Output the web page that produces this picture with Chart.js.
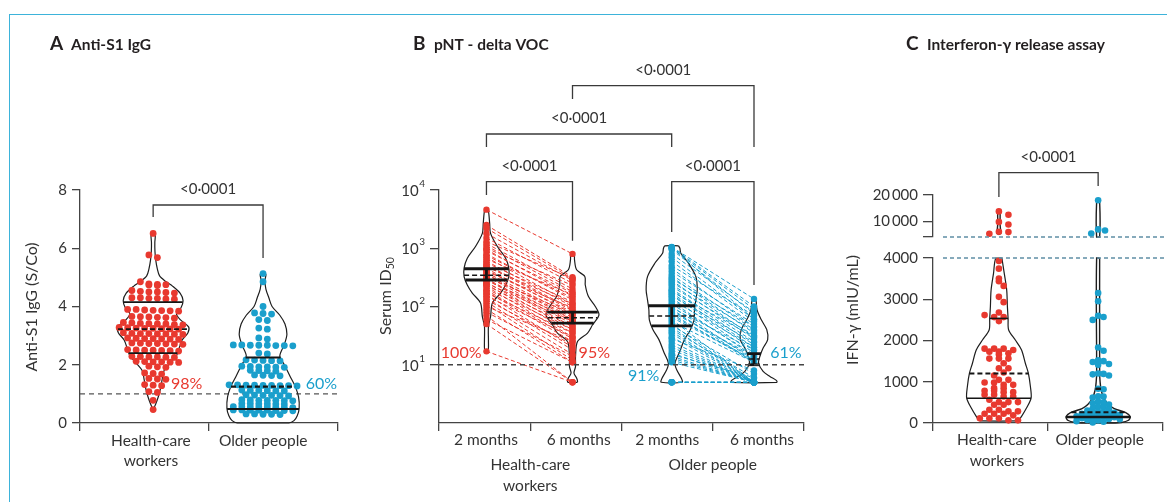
<!DOCTYPE html>
<html>
<head>
<meta charset="utf-8">
<script src="https://cdn.jsdelivr.net/npm/chart.js@4.4.1/dist/chart.umd.min.js"></script>
<style>
  html, body { margin: 0; padding: 0; background: #fff; }
  #fig { position: relative; width: 1167px; height: 502px; overflow: hidden; }
  #frame { position: absolute; left: 9px; top: 14px; width: 1200px; height: 520px;
           border-left: 1.5px solid #3db3da; border-top: 1.5px solid #3db3da; }
  canvas { position: absolute; }
</style>
</head>
<body>
<div id="fig">
  <div id="frame"></div>
  <canvas id="chartA" width="380" height="502" style="left:0;top:0"></canvas>
  <canvas id="chartB" width="450" height="502" style="left:370px;top:0"></canvas>
  <canvas id="chartCTop" width="347" height="251" style="left:820px;top:0"></canvas>
  <canvas id="chartCLow" width="347" height="262" style="left:820px;top:240px"></canvas>
</div>
<script>
const RED = '#e8392f';
const BLUE = '#1a9fcc';
const INK = '#333333';
const AXIS = '#444444';
const FONT = 'Lato, "Open Sans", sans-serif';

// ---------- data ----------
const groupLabels = [['Health-care', 'workers'], ['Older people']];
const timeLabels = ['2 months', '6 months', '2 months', '6 months'];
const pValue = '<0·0001';

// A: anti-S1 IgG (S/Co)
const aTicks = [0, 2, 4, 6, 8];
const aCutoff = 1;
const aPositive = ['98%', '60%'];
const aHcw = [
  6.51, 5.77, 5.68,
  4.85, 4.78, 4.76, 4.75, 4.74, 4.72,
  4.55, 4.52, 4.5, 4.5, 4.48, 4.46,
  4.3, 4.28, 4.28, 4.26, 4.25, 4.3,
  3.9, 3.88, 3.87, 3.86, 3.85, 3.84, 3.9,
  3.65, 3.64, 3.63, 3.62, 3.66, 3.6,
  3.45, 3.42, 3.41, 3.4, 3.38, 3.37, 3.44, 3.4,
  3.27, 3.26, 3.25, 3.24, 3.23, 3.22, 3.25, 3.28,
  3.08, 3.07, 3.06, 3.05, 3.04, 3.1, 3.07, 3.06,
  2.92, 2.9, 2.89, 2.88, 2.91, 2.9, 2.87,
  2.74, 2.73, 2.72, 2.7, 2.75, 2.71, 2.73,
  2.52, 2.5, 2.49, 2.48, 2.51, 2.5, 2.47,
  2.28, 2.27, 2.26, 2.25, 2.29, 2.27,
  2.12, 2.1, 2.09, 2.08, 2.11, 2.1,
  1.95, 1.93, 1.91, 1.72, 1.7, 1.68, 1.53, 1.51, 1.5,
  1.32, 1.3, 1.28, 1.08, 1.05, 0.78, 0.46,
];
const aOlder = [
  5.13, 4.85, 4.0, 3.78, 3.76, 3.74, 3.55, 3.52, 3.26, 3.22, 2.92, 2.88,
  2.68, 2.67, 2.67, 2.66, 2.68, 2.65, 2.67, 2.66,
  2.4, 2.37, 2.17, 2.15, 2.14, 2.16, 2.13,
  1.95, 1.93, 1.92, 1.94, 1.91, 1.93,
  1.8, 1.79, 1.81, 1.78,
  1.65, 1.64, 1.63, 1.62,
  1.31, 1.3, 1.29, 1.28, 1.3, 1.31, 1.27, 1.29, 1.28,
  1.12, 1.11, 1.1, 1.13, 1.12, 1.1,
  0.96, 0.95, 0.94, 0.95, 0.97, 0.93,
  0.79, 0.78, 0.77, 0.78, 0.8, 0.76, 0.78,
  0.67, 0.66, 0.65, 0.66, 0.67, 0.65,
  0.56, 0.55, 0.54, 0.55, 0.56, 0.54, 0.55, 0.53,
  0.45, 0.44, 0.43, 0.44, 0.45, 0.43, 0.44, 0.42,
  0.31, 0.3, 0.29, 0.3, 0.31,
];
const aHcwQuartiles = [2.4, 3.22, 4.15];
const aOlderQuartiles = [0.48, 1.25, 2.25];
// violin outlines: [value, half width in category units]
const aHcwViolin = [[6.55, 0], [6.45, 0.016], [6.2, 0.013], [5.9, 0.014], [5.6, 0.02], [5.3, 0.032],
  [5.05, 0.05], [4.85, 0.1], [4.7, 0.15], [4.45, 0.21], [4.2, 0.232], [3.95, 0.215], [3.75, 0.18],
  [3.55, 0.21], [3.3, 0.275], [3.1, 0.27], [2.85, 0.225], [2.55, 0.2], [2.3, 0.18], [2.05, 0.13],
  [1.8, 0.085], [1.5, 0.07], [1.2, 0.058], [0.9, 0.04], [0.65, 0.02], [0.45, 0]];
const aOlderViolin = [[5.2, 0], [5.1, 0.022], [4.9, 0.015], [4.6, 0.022], [4.3, 0.045], [4.0, 0.07],
  [3.7, 0.13], [3.4, 0.17], [3.05, 0.185], [2.7, 0.165], [2.3, 0.13], [2.0, 0.165], [1.6, 0.21],
  [1.3, 0.245], [0.9, 0.275], [0.5, 0.28], [0.25, 0.265], [0.08, 0.24], [0, 0.2]];

// B: pseudovirus neutralisation, delta VOC (serum ID50), paired samples
const bTicks = [10, 100, 1000, 10000];
const bCutoff = 10;
const bPositive = ['100%', '95%', '91%', '61%'];
const bHcw2m = [4600, 2500, 2200, 1800, 1500, 1300, 1200, 1100, 1000, 950, 900, 800, 750, 700, 650,
  600, 560, 520, 500, 480, 450, 420, 400, 380, 360, 350, 330, 320, 300, 290, 280, 260, 250, 240, 230,
  220, 200, 190, 180, 170, 160, 150, 140, 130, 120, 110, 100, 90, 80, 70, 60, 50, 17];
const bHcw6m = [800, 320, 300, 280, 250, 300, 200, 180, 230, 150, 170, 130, 140, 110, 160,
  100, 120, 90, 85, 110, 75, 80, 95, 70, 60, 65, 55, 75, 50, 45, 60, 40, 55, 35, 45,
  30, 40, 28, 25, 35, 20, 30, 18, 22, 15, 12, 25, 11, 14, 5, 11, 5, 5];
const bOlder2m = [1050, 1040, 1030, 1000, 950, 800, 700, 600, 500, 450, 400, 350, 320, 300, 280,
  260, 240, 220, 200, 190, 180, 170, 160, 150, 140, 130, 120, 110, 100, 95, 90, 85, 80, 75, 70,
  65, 60, 55, 50, 47, 44, 40, 37, 34, 30, 28, 25, 22, 20, 18, 16, 15, 14, 13, 12, 11, 5, 5, 5, 5, 5];
const bOlder6m = [135, 100, 60, 90, 75, 80, 60, 55, 70, 45, 50, 40, 35, 45, 30,
  38, 28, 32, 25, 22, 30, 20, 18, 24, 16, 20, 14, 15, 12, 18, 11, 13, 14, 11, 12,
  12, 5, 11, 5, 7, 5, 6, 5, 5, 5, 8, 5, 5, 5, 5, 5, 6, 5, 5, 5, 5, 5, 5, 5, 5, 5];
// geometric mean with 95% CI: [lower, GM, upper]
const bGeoMeans = [[285, 345, 445], [52, 64, 80], [46.6, 69, 103], [10, 12.5, 15.5]];
const bViolins = [
  [[4800, 0], [4500, 0.02], [2700, 0.035], [1800, 0.045], [1070, 0.12], [675, 0.21], [455, 0.245],
    [327, 0.245], [234, 0.21], [170, 0.155], [115, 0.065], [67, 0.045], [46, 0.022], [25, 0.022],
    [18, 0.02], [16.5, 0]],
  [[860, 0], [800, 0.02], [630, 0.022], [427, 0.045], [327, 0.135], [234, 0.14], [148, 0.175],
    [100, 0.25], [72, 0.29], [48.5, 0.22], [35, 0.165], [25, 0.055], [13.9, 0.033], [9.3, 0.033],
    [7.2, 0.016], [5.9, 0.045], [5.2, 0.055], [5, 0.05]],
  [[1100, 0.075], [1000, 0.09], [822, 0.1], [552, 0.185], [326, 0.265], [194, 0.28], [130, 0.265],
    [88, 0.25], [59, 0.245], [40, 0.205], [27, 0.14], [15.9, 0.082], [10.7, 0.036], [8.2, 0.055],
    [5.9, 0.105], [5, 0.115]],
  [[140, 0], [135, 0.02], [88, 0.033], [59, 0.08], [40, 0.14], [27, 0.15], [19.3, 0.1], [14, 0.065],
    [10.7, 0.05], [7.7, 0.1], [6.3, 0.175], [5.4, 0.245], [5, 0.25]],
];

// C: interferon-gamma release assay (mIU/mL), broken axis at 4000
const cBreak = 4000;
const cTicksLow = [0, 1000, 2000, 3000, 4000];
const cTicksHigh = [4000, 10000, 20000];
const cHcw = [13750, 12500, 9750, 8750, 6000, 5875, 5250,
  3927, 3742, 3501, 3437, 3324, 3058, 2930, 2680, 2616, 2567, 2567, 2470,
  1803, 1803, 1803, 1771, 1730, 1730, 1690, 1658, 1561, 1561, 1561, 1449, 1328, 1328, 1223, 1151,
  1046, 1046, 982, 982, 925, 925, 845, 845, 781, 781, 748, 748, 684, 684, 644, 644,
  563, 507, 507, 507, 443, 443, 322, 322, 282, 282, 225, 225, 225, 185, 113, 113, 113, 64, 64];
const cOlder = [18000, 6900, 6500, 5300,
  3150, 2950, 2600, 2570, 2500, 1830, 1750, 1520, 1500, 1480, 1430, 1410, 1200, 1190, 1180, 1150,
  830, 820, 650, 640, 620, 520, 500, 480, 450, 400, 380, 350, 330, 300, 280, 260, 250, 240, 225,
  210, 200, 185, 170, 160, 150, 140, 130, 115, 100, 90, 75, 60, 45, 30, 15];
const cHcwQuartiles = [600, 1200, 2535];
const cOlderQuartiles = [145, 258, 830];
const cHcwViolinLow = [[4000, 0.026], [3622, 0.047], [3219, 0.068], [2817, 0.074], [2535, 0.08],
  [2253, 0.085], [2012, 0.143], [1770, 0.197], [1449, 0.23], [1207, 0.256], [885, 0.274],
  [604, 0.28], [362, 0.24], [161, 0.197], [64, 0.17], [50, 0.16]];
const cHcwViolinHigh = [[13750, 0], [13200, 0.01], [9000, 0.01], [6500, 0.015], [5500, 0.018], [5000, 0]];
const cOlderViolinLow = [[4000, 0.013], [1200, 0.013], [1000, 0.017], [800, 0.026], [600, 0.05],
  [450, 0.09], [350, 0.14], [250, 0.24], [150, 0.28], [60, 0.26], [10, 0.2], [0, 0.15]];
const cOlderViolinHigh = [[18000, 0], [17500, 0.013], [4000, 0.013]];

// ---------- layout ----------
const aCenters = [0.567, 1.419];
const bCenters = [0.52, 1.463, 2.55, 3.452];
const cCenters = [0.573, 1.436];

// ---------- helpers ----------
Chart.defaults.font.family = FONT;

function swarm(values, center, pxPerX, toPx, step, gap) {
  const placed = [];
  return [...values].sort((a, b) => b - a).map((v) => {
    const py = toPx(v);
    for (let k = 0; k < 60; k += 1) {
      const off = (k % 2 ? 1 : -1) * Math.ceil(k / 2) * step;
      if (placed.every((p) => Math.hypot(p.px - off, p.py - py) >= gap)) {
        placed.push({ px: off, py });
        return { x: center + off / pxPerX, y: v };
      }
    }
    return { x: center, y: v };
  });
}

// rows of near-equal values, centred; a row is nudged half a step if it clashes with the one above
function rowSwarm(values, center, pxPerX, toPx, step, gap, tol) {
  const groups = [];
  [...values].sort((a, b) => b - a).forEach((v) => {
    const g = groups[groups.length - 1];
    if (g && toPx(g[0]) - toPx(v) < tol) g.push(v);
    else groups.push([v]);
  });
  const placed = [];
  const out = [];
  groups.forEach((g) => {
    const base = g.map((v, i) => ({ v, px: (i - (g.length - 1) / 2) * step, py: toPx(v) }));
    const shift = [0, step / 2, -step / 2].find((s) => base.every((b) =>
      placed.every((p) => Math.hypot(p.px - b.px - s, p.py - b.py) >= gap))) || 0;
    base.forEach((b) => {
      placed.push({ px: b.px + shift, py: b.py });
      out.push({ x: center + (b.px + shift) / pxPerX, y: b.v });
    });
  });
  return out;
}

function dots(points, color, radius) {
  return {
    data: points, backgroundColor: color, borderWidth: 0,
    pointRadius: radius, order: 2, clip: false,
  };
}

function violin(center, profile, width = 1.2) {
  const right = profile.map(([v, w]) => ({ x: center + w, y: v }));
  const left = profile.map(([v, w]) => ({ x: center - w, y: v })).reverse();
  return {
    data: [...right, ...left, right[0]], showLine: true, pointRadius: 0,
    borderColor: '#1e1e1e', borderWidth: width, tension: 0.3, order: 4, clip: false,
  };
}

function widthAt(profile, v, log) {
  const f = log ? Math.log10 : (t) => t;
  for (let i = 0; i < profile.length - 1; i += 1) {
    const [v1, w1] = profile[i];
    const [v2, w2] = profile[i + 1];
    if (v <= v1 && v >= v2) {
      const t = (f(v1) - f(v)) / ((f(v1) - f(v2)) || 1);
      return w1 + (w2 - w1) * t;
    }
  }
  return 0;
}

function segment(points, width, dash = []) {
  return {
    data: points, showLine: true, pointRadius: 0, borderColor: '#151515',
    borderWidth: width, borderDash: dash, order: 1, clip: false,
  };
}

function summaryLines(center, profile, levels, log, solidW, dashW, bar) {
  const sets = levels.map((v, i) => {
    const w = widthAt(profile, v, log);
    const pts = [{ x: center - w, y: v }, { x: center + w, y: v }];
    return i === 1 ? segment(pts, dashW, [5, 3]) : segment(pts, solidW);
  });
  if (bar) {
    sets.push(segment([{ x: center, y: levels[0] }, { x: center, y: levels[2] }], solidW));
  }
  return sets;
}

function pairLines(a, b, x1, x2, color) {
  return a.map((v, i) => ({
    data: [{ x: x1, y: v }, { x: x2, y: b[i] }], showLine: true, pointRadius: 0,
    borderColor: color, borderWidth: 1, borderDash: [4, 2.5], order: 3, clip: false,
  }));
}

function axisX(min, max, ticks, display = true) {
  return {
    type: 'linear', min, max, display,
    afterBuildTicks: (s) => { s.ticks = ticks.map((value) => ({ value })); },
    afterFit: (s) => { if (display) s.height = 8; },
    ticks: { display: false },
    grid: { drawOnChartArea: false, tickLength: 8, color: AXIS, lineWidth: 1.3 },
    border: { color: AXIS, width: 1.3 },
  };
}

function axisY(type, min, max, ticks, width, label, tickLength = 8) {
  return {
    type, min, max,
    afterBuildTicks: (s) => { s.ticks = ticks.map((value) => ({ value })); },
    afterFit: (s) => { s.width = width; },
    ticks: {
      display: label !== null, callback: label || undefined, autoSkip: false,
      font: { family: FONT, size: 15 }, color: INK, padding: 5,
    },
    grid: { drawOnChartArea: false, tickLength, color: AXIS, lineWidth: 1.3 },
    border: { color: AXIS, width: 1.3 },
  };
}

function baseOptions(padding, x, y) {
  return {
    responsive: false, animation: false, events: [],
    layout: { padding },
    plugins: { legend: { display: false }, tooltip: { enabled: false } },
    scales: { x, y },
  };
}

function text(ctx, str, x, y, opts = {}) {
  const { size = 15, weight = 'normal', color = INK, align = 'center', baseline = 'middle' } = opts;
  ctx.save();
  ctx.font = `${weight} ${size}px ${FONT}`;
  ctx.fillStyle = color;
  ctx.textAlign = align;
  ctx.textBaseline = baseline;
  ctx.fillText(str, x, y);
  ctx.restore();
}

function vText(ctx, parts, cx, cy) {
  // parts: [[string, size, dy]] drawn rotated, centred on cx, cy
  ctx.save();
  ctx.translate(cx, cy);
  ctx.rotate(-Math.PI / 2);
  ctx.fillStyle = INK;
  ctx.textBaseline = 'middle';
  let total = 0;
  parts.forEach(([s, size]) => { ctx.font = `${size}px ${FONT}`; total += ctx.measureText(s).width; });
  let pos = -total / 2;
  parts.forEach(([s, size, dy]) => {
    ctx.font = `${size}px ${FONT}`;
    ctx.textAlign = 'left';
    ctx.fillText(s, pos, dy || 0);
    pos += ctx.measureText(s).width;
  });
  ctx.restore();
}

function title(ctx, x, letter, label) {
  text(ctx, letter, x, 49.5, { size: 19, weight: 'bold', color: '#231f20', align: 'left', baseline: 'alphabetic' });
  text(ctx, label, x + 21, 49.5, { size: 15.5, weight: 'bold', color: '#231f20', align: 'left', baseline: 'alphabetic' });
}

function bracket(ctx, x1, x2, yl, yt, yr, label) {
  ctx.save();
  ctx.strokeStyle = '#3a3a3a';
  ctx.lineWidth = 1.3;
  ctx.beginPath();
  ctx.moveTo(x1, yl);
  ctx.lineTo(x1, yt);
  ctx.lineTo(x2, yt);
  ctx.lineTo(x2, yr);
  ctx.stroke();
  ctx.restore();
  text(ctx, label, (x1 + x2) / 2, yt - 16);
}

function dashedH(ctx, x1, x2, y, color, dash) {
  ctx.save();
  ctx.strokeStyle = color;
  ctx.lineWidth = 1.3;
  ctx.setLineDash(dash);
  ctx.beginPath();
  ctx.moveTo(x1, y);
  ctx.lineTo(x2, y);
  ctx.stroke();
  ctx.restore();
}

function groupText(ctx, lines, x, y0) {
  lines.forEach((line, i) => text(ctx, line, x, y0 + i * 20.5, { size: 15.5 }));
}

// ---------- panel A ----------
const aPxX = 129;
const aPxY = (v) => v * (233 / 8);

const panelA = {
  id: 'panelA',
  beforeDatasetsDraw(chart) {
    const { ctx, scales: { x, y } } = chart;
    dashedH(ctx, x.left, x.right, y.getPixelForValue(aCutoff), '#555', [5, 4]);
  },
  afterDraw(chart) {
    const { ctx, scales: { x, y } } = chart;
    title(ctx, 50, 'A', 'Anti-S1 IgG');
    vText(ctx, [['Anti-S1 IgG (S/Co)', 16]], 32, 307);
    groupText(ctx, groupLabels[0], x.getPixelForValue(0.55), 440.5);
    groupText(ctx, groupLabels[1], x.getPixelForValue(1.42), 440.5);
    bracket(ctx, x.getPixelForValue(aCenters[0]), x.getPixelForValue(aCenters[1]), 217, 205, 258, pValue);
    text(ctx, aPositive[0], x.getPixelForValue(0.705), y.getPixelForValue(1.34), { size: 16, color: RED, align: 'left' });
    text(ctx, aPositive[1], x.getPixelForValue(1.75), y.getPixelForValue(1.34), { size: 16, color: BLUE, align: 'left' });
  },
};

new Chart(document.getElementById('chartA'), {
  type: 'scatter',
  data: {
    datasets: [
      dots(rowSwarm(aHcw, aCenters[0], aPxX, aPxY, 8.5, 6, 3), RED, 3.4),
      dots(rowSwarm(aOlder, aCenters[1], aPxX, aPxY, 8.5, 6, 3), BLUE, 3.4),
      ...summaryLines(aCenters[0], aHcwViolin, aHcwQuartiles, false, 1.6, 1.8),
      ...summaryLines(aCenters[1], aOlderViolin, aOlderQuartiles, false, 2.1, 2.2),
      violin(aCenters[0], aHcwViolin),
      violin(aCenters[1], aOlderViolin),
    ],
  },
  options: baseOptions({ left: 20, right: 42, top: 190, bottom: 71 },
    axisX(0, 2, [0, 1, 2]),
    axisY('linear', 0, 8, aTicks, 60, (v) => String(v))),
  plugins: [panelA],
});

// ---------- panel B ----------
const supDigits = { 1: '1', 2: '2', 3: '3', 4: '4' };

const panelB = {
  id: 'panelB',
  afterDatasetsDraw(chart) {
    const { ctx, scales: { x, y } } = chart;
    dashedH(ctx, x.left, x.right, y.getPixelForValue(bCutoff), '#444', [5, 4]);
  },
  afterDraw(chart) {
    const { ctx, scales: { x, y } } = chart;
    const px = (v) => x.getPixelForValue(v);
    title(ctx, 43, 'B', 'pNT - delta VOC');
    vText(ctx, [['Serum ID', 16], ['50', 10.5, 5]], 16, 296);

    bTicks.forEach((v) => {
      const yy = y.getPixelForValue(v);
      const right = x.left - 14;
      const sup = supDigits[Math.round(Math.log10(v))];
      ctx.save();
      ctx.font = `10px ${FONT}`;
      const supW = ctx.measureText(sup).width;
      ctx.restore();
      text(ctx, sup, right - supW, yy - 6, { size: 10, align: 'left' });
      text(ctx, '10', right - supW - 0.5, yy + 1, { size: 15, align: 'right' });
    });

    [0.515, 1.53, 2.5, 3.54].forEach((c, i) => text(ctx, timeLabels[i], px(c), 439.5, { size: 15.5 }));
    groupText(ctx, groupLabels[0], px(1.0), 465);
    groupText(ctx, groupLabels[1], px(3.0), 465);

    bracket(ctx, px(bCenters[0]), px(bCenters[1]), 195, 181.7, 240.7, pValue);
    bracket(ctx, px(bCenters[2]), px(bCenters[3]), 232, 181.7, 285, pValue);
    bracket(ctx, px(bCenters[0]), px(bCenters[2]), 147, 134, 147, pValue);
    bracket(ctx, px(bCenters[1]), px(bCenters[3]), 99, 85.7, 147, pValue);

    const spots = [[0.02, 16, RED], [1.53, 16, RED], [2.07, 6.5, BLUE], [3.63, 16, BLUE]];
    spots.forEach(([xv, yv, color], i) => {
      text(ctx, bPositive[i], px(xv), y.getPixelForValue(yv), { size: 16, color, align: 'left' });
    });
  },
};

const bGroups = [[bHcw2m, RED], [bHcw6m, RED], [bOlder2m, BLUE], [bOlder6m, BLUE]];

new Chart(document.getElementById('chartB'), {
  type: 'scatter',
  data: {
    datasets: [
      ...bGroups.map(([vals, color], i) => dots(vals.map((v) => ({ x: bCenters[i], y: v })), color, 3.2)),
      ...bGroups.flatMap((g, i) => summaryLines(bCenters[i], bViolins[i], bGeoMeans[i], true, 2.8, 1.5, true)),
      ...pairLines(bHcw2m, bHcw6m, bCenters[0], bCenters[1], RED),
      ...pairLines(bOlder2m, bOlder6m, bCenters[2], bCenters[3], BLUE),
      ...bViolins.map((p, i) => violin(bCenters[i], p)),
    ],
  },
  options: baseOptions({ left: 19, right: 16, top: 190, bottom: 71 },
    axisX(0, 4, [0, 1, 2, 3, 4]),
    axisY('logarithmic', 1, 10000, bTicks, 50, null, 9)),
  plugins: [panelB],
});

// ---------- panel C ----------
const cPxX = 117;
const cPxLow = (v) => v * (165.6 / 4000);
const cPxHigh = (v) => v * (42 / 16000);
const thousands = (v) => String(v).replace(/(\d)(?=(\d{3})+$)/, '$1\u2009');

const panelCTop = {
  id: 'panelCTop',
  afterDraw(chart) {
    const { ctx, scales: { x, y } } = chart;
    title(ctx, 86, 'C', 'Interferon-γ release assay');
    dashedH(ctx, x.left + 10, chart.width, y.getPixelForValue(cBreak), '#5f8ea5', [4, 3]);
    bracket(ctx, x.getPixelForValue(cCenters[0]), x.getPixelForValue(cCenters[1]), 197, 172.7, 186, pValue);
  },
};

const panelCLow = {
  id: 'panelCLow',
  afterDraw(chart) {
    const { ctx, scales: { x, y } } = chart;
    dashedH(ctx, x.left + 10, chart.width, y.getPixelForValue(cBreak), '#5f8ea5', [4, 3]);
    vText(ctx, [['IFN-γ (mIU/mL)', 16]], 33, 70);
    groupText(ctx, groupLabels[0], x.getPixelForValue(0.556), 200);
    groupText(ctx, groupLabels[1], x.getPixelForValue(1.45), 200);
  },
};

const cHcwLow = cHcw.filter((v) => v <= cBreak);
const cHcwHigh = cHcw.filter((v) => v > cBreak);
const cOlderLow = cOlder.filter((v) => v <= cBreak);
const cOlderHigh = cOlder.filter((v) => v > cBreak);

new Chart(document.getElementById('chartCTop'), {
  type: 'scatter',
  data: {
    datasets: [
      dots(swarm(cHcwHigh, cCenters[0], cPxX, cPxHigh, 9.7, 6.5), RED, 3.3),
      dots(swarm(cOlderHigh, cCenters[1], cPxX, cPxHigh, 7, 5), BLUE, 3.3),
      violin(cCenters[0], cHcwViolinHigh, 1.4),
      violin(cCenters[1], cOlderViolinHigh, 1.4),
    ],
  },
  options: baseOptions({ left: 53, right: 1, top: 195, bottom: 8 },
    axisX(0, 2, [0, 1, 2], false),
    axisY('linear', 4000, 20000, cTicksHigh, 60, (v) => (v === cBreak ? '' : thousands(v)), 10)),
  plugins: [panelCTop],
});

new Chart(document.getElementById('chartCLow'), {
  type: 'scatter',
  data: {
    datasets: [
      dots(rowSwarm(cHcwLow, cCenters[0], cPxX, cPxLow, 9.7, 6.5, 2.5), RED, 3.3),
      dots(swarm(cOlderLow, cCenters[1], cPxX, cPxLow, 5.5, 4.5), BLUE, 3.3),
      ...summaryLines(cCenters[0], cHcwViolinLow, cHcwQuartiles, false, 1.6, 2),
      ...summaryLines(cCenters[1], cOlderViolinLow, cOlderQuartiles, false, 2.4, 2),
      violin(cCenters[0], cHcwViolinLow),
      violin(cCenters[1], cOlderViolinLow, 1.4),
    ],
  },
  options: baseOptions({ left: 53, right: 1, top: 18, bottom: 71 },
    axisX(0, 2, [0, 1, 2]),
    axisY('linear', 0, 4000, cTicksLow, 60, (v) => String(v), 10)),
  plugins: [panelCLow],
});
</script>
</body>
</html>
